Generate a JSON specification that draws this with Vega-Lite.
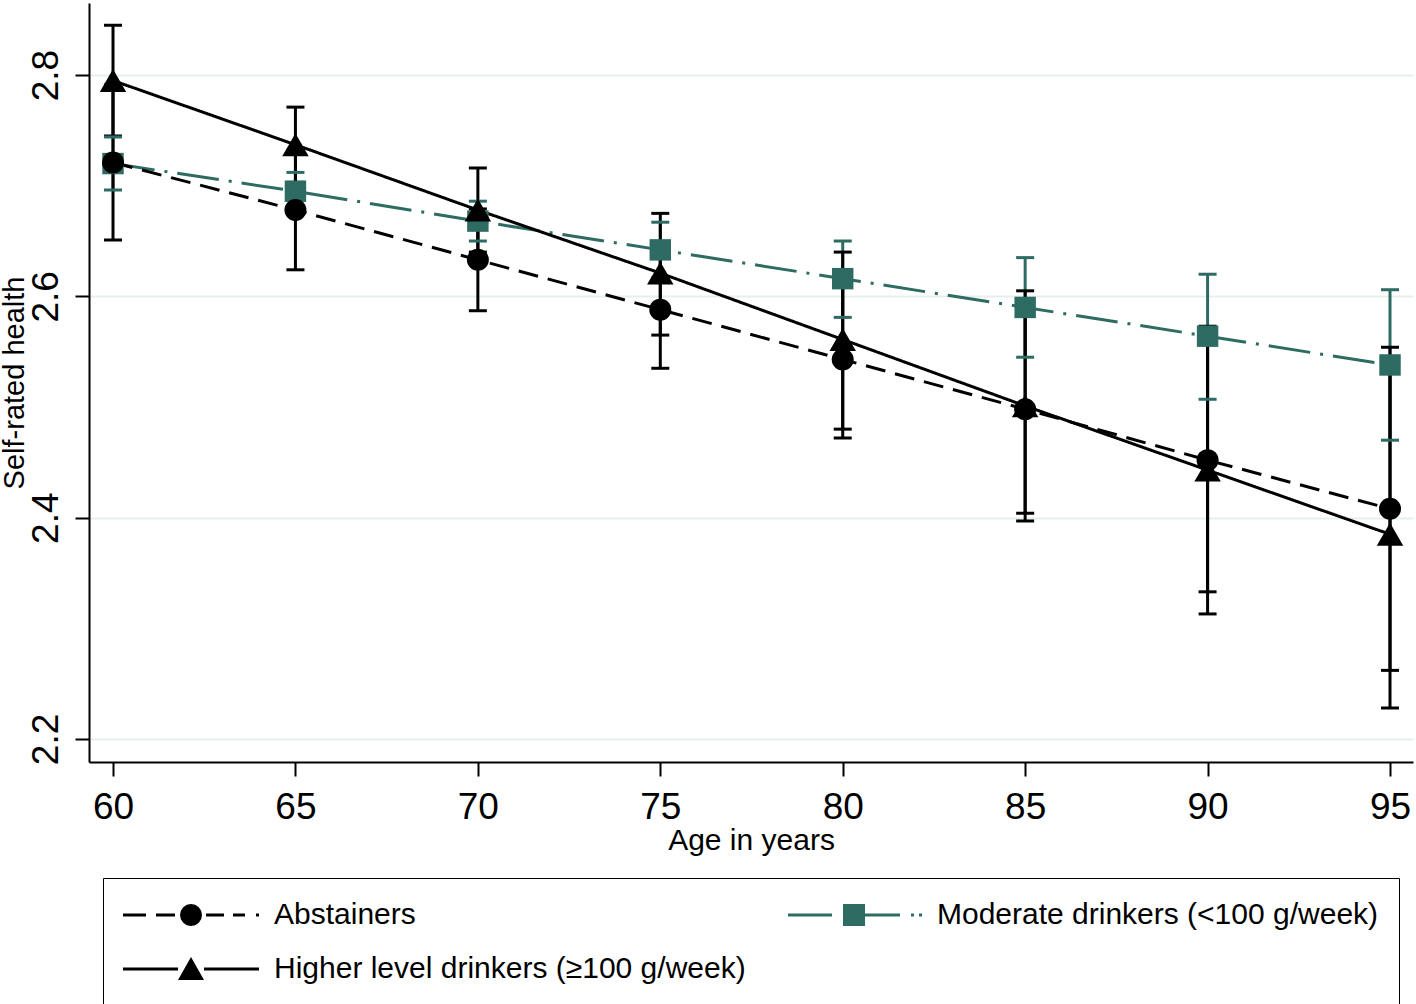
{
  "$schema": "https://vega.github.io/schema/vega-lite/v6.json",
  "autosize": {"type": "none"},
  "padding": {"left": 89, "top": 3, "right": 3, "bottom": 242},
  "width": 1324,
  "height": 759,
  "background": "white",
  "config": {
    "view": {"stroke": null},
    "font": "Liberation Sans"
  },
  "data": {
    "values": [
      {"g": "Moderate drinkers (<100 g/week)", "age": 60, "est": 2.720, "lo": 2.696, "hi": 2.744},
      {"g": "Moderate drinkers (<100 g/week)", "age": 65, "est": 2.695, "lo": 2.678, "hi": 2.712},
      {"g": "Moderate drinkers (<100 g/week)", "age": 70, "est": 2.668, "lo": 2.650, "hi": 2.686},
      {"g": "Moderate drinkers (<100 g/week)", "age": 75, "est": 2.642, "lo": 2.617, "hi": 2.667},
      {"g": "Moderate drinkers (<100 g/week)", "age": 80, "est": 2.616, "lo": 2.581, "hi": 2.650},
      {"g": "Moderate drinkers (<100 g/week)", "age": 85, "est": 2.590, "lo": 2.545, "hi": 2.635},
      {"g": "Moderate drinkers (<100 g/week)", "age": 90, "est": 2.564, "lo": 2.507, "hi": 2.620},
      {"g": "Moderate drinkers (<100 g/week)", "age": 95, "est": 2.538, "lo": 2.470, "hi": 2.606},
      {"g": "Abstainers", "age": 60, "est": 2.721, "lo": 2.651, "hi": 2.791},
      {"g": "Abstainers", "age": 65, "est": 2.678, "lo": 2.624, "hi": 2.732},
      {"g": "Abstainers", "age": 70, "est": 2.633, "lo": 2.587, "hi": 2.679},
      {"g": "Abstainers", "age": 75, "est": 2.588, "lo": 2.535, "hi": 2.641},
      {"g": "Abstainers", "age": 80, "est": 2.543, "lo": 2.472, "hi": 2.614},
      {"g": "Abstainers", "age": 85, "est": 2.498, "lo": 2.404, "hi": 2.592},
      {"g": "Abstainers", "age": 90, "est": 2.452, "lo": 2.333, "hi": 2.571},
      {"g": "Abstainers", "age": 95, "est": 2.408, "lo": 2.262, "hi": 2.554},
      {"g": "Higher level drinkers (≥100 g/week)", "age": 60, "est": 2.795, "lo": 2.745, "hi": 2.845},
      {"g": "Higher level drinkers (≥100 g/week)", "age": 65, "est": 2.737, "lo": 2.703, "hi": 2.771},
      {"g": "Higher level drinkers (≥100 g/week)", "age": 70, "est": 2.678, "lo": 2.640, "hi": 2.716},
      {"g": "Higher level drinkers (≥100 g/week)", "age": 75, "est": 2.621, "lo": 2.565, "hi": 2.675},
      {"g": "Higher level drinkers (≥100 g/week)", "age": 80, "est": 2.561, "lo": 2.480, "hi": 2.640},
      {"g": "Higher level drinkers (≥100 g/week)", "age": 85, "est": 2.501, "lo": 2.397, "hi": 2.605},
      {"g": "Higher level drinkers (≥100 g/week)", "age": 90, "est": 2.443, "lo": 2.313, "hi": 2.573},
      {"g": "Higher level drinkers (≥100 g/week)", "age": 95, "est": 2.385, "lo": 2.228, "hi": 2.542}
    ]
  },
  "encoding": {
    "x": {
      "field": "age", "type": "quantitative",
      "scale": {"domain": [59.342, 95.63], "nice": false, "zero": false},
      "axis": {
        "title": "Age in years",
        "values": [60, 65, 70, 75, 80, 85, 90, 95],
        "grid": false,
        "domainColor": "black", "domainWidth": 2,
        "tickColor": "black", "tickWidth": 2, "tickSize": 14,
        "labelFont": "Liberation Sans", "labelFontSize": 37, "labelColor": "black", "labelPadding": 13,
        "titleFont": "Liberation Sans", "titleFontSize": 30, "titleFontWeight": "normal", "titleColor": "black", "titlePadding": 0
      }
    },
    "y": {
      "field": "est", "type": "quantitative",
      "scale": {"domain": [2.1792, 2.8651], "nice": false, "zero": false},
      "axis": {
        "title": "Self-rated health",
        "values": [2.2, 2.4, 2.6, 2.8],
        "format": ".1f",
        "grid": true, "gridColor": "#E6EFF0", "gridWidth": 2,
        "domainColor": "black", "domainWidth": 2,
        "tickColor": "black", "tickWidth": 2, "tickSize": 14,
        "labelAngle": 270,
        "labelFont": "Liberation Sans", "labelFontSize": 37, "labelColor": "black", "labelPadding": 10,
        "titleFont": "Liberation Sans", "titleFontSize": 29, "titleFontWeight": "normal", "titleColor": "black", "titlePadding": -2
      }
    }
  },
  "layer": [
    {
      "mark": {"type": "rule", "strokeWidth": 3},
      "encoding": {
        "y": {"field": "lo", "type": "quantitative"},
        "y2": {"field": "hi"},
        "stroke": {
          "field": "g", "type": "nominal", "legend": null,
          "scale": {"domain": ["Moderate drinkers (<100 g/week)", "Abstainers", "Higher level drinkers (≥100 g/week)"], "range": ["#2E6B63", "#000000", "#000000"]}
        }
      }
    },
    {
      "mark": {"type": "tick", "orient": "horizontal", "size": 18, "thickness": 3, "opacity": 1},
      "encoding": {
        "y": {"field": "lo", "type": "quantitative"},
        "fill": {
          "field": "g", "type": "nominal", "legend": null,
          "scale": {"domain": ["Moderate drinkers (<100 g/week)", "Abstainers", "Higher level drinkers (≥100 g/week)"], "range": ["#2E6B63", "#000000", "#000000"]}
        }
      }
    },
    {
      "mark": {"type": "tick", "orient": "horizontal", "size": 18, "thickness": 3, "opacity": 1},
      "encoding": {
        "y": {"field": "hi", "type": "quantitative"},
        "fill": {
          "field": "g", "type": "nominal", "legend": null,
          "scale": {"domain": ["Moderate drinkers (<100 g/week)", "Abstainers", "Higher level drinkers (≥100 g/week)"], "range": ["#2E6B63", "#000000", "#000000"]}
        }
      }
    },
    {
      "mark": {"type": "line", "strokeWidth": 3},
      "encoding": {
        "stroke": {
          "field": "g", "type": "nominal", "legend": null,
          "scale": {"domain": ["Moderate drinkers (<100 g/week)", "Abstainers", "Higher level drinkers (≥100 g/week)"], "range": ["#2E6B63", "#000000", "#000000"]}
        },
        "strokeDash": {
          "field": "g", "type": "nominal", "legend": null,
          "scale": {"domain": ["Moderate drinkers (<100 g/week)", "Abstainers", "Higher level drinkers (≥100 g/week)"], "range": [[42, 10, 3, 10], [20, 10], [1, 0]]}
        }
      }
    },
    {
      "transform": [{"filter": "datum.age === 60"}],
      "mark": {"type": "point", "filled": true, "opacity": 0, "size": 1},
      "encoding": {
        "color": {
          "field": "g", "type": "nominal",
          "scale": {"domain": ["Abstainers", "Higher level drinkers (≥100 g/week)", "Moderate drinkers (<100 g/week)"], "range": ["#000000", "#000000", "#2E6B63"]},
          "legend": {
            "title": null, "orient": "none", "legendX": 14, "legendY": 875, "columns": 2,
            "symbolSize": 1156, "symbolStrokeWidth": 0, "symbolOpacity": 1, "symbolOffset": 51,
            "labelFont": "Liberation Sans", "labelFontSize": 30, "labelColor": "black", "labelOffset": 66, "labelLimit": 1000,
            "columnPadding": 40, "rowPadding": 22, "padding": 20,
            "strokeColor": "black", "fillColor": "white"
          }
        },
        "shape": {
          "field": "g", "type": "nominal",
          "scale": {
            "domain": ["Abstainers", "Higher level drinkers (≥100 g/week)", "Moderate drinkers (<100 g/week)"],
            "range": [
              "M-4,-0.088L-2.647,-0.088L-2.647,0.088L-4,0.088Z M-2.059,-0.088L-0.941,-0.088L-0.941,0.088L-2.059,0.088Z M0.647,0L0.5978,0.2476L0.4575,0.4575L0.2476,0.5978L0,0.647L-0.2476,0.5978L-0.4575,0.4575L-0.5978,0.2476L-0.647,0L-0.5978,-0.2476L-0.4575,-0.4575L-0.2476,-0.5978L0,-0.647L0.2476,-0.5978L0.4575,-0.4575L0.5978,-0.2476Z M0.882,-0.088L1.941,-0.088L1.941,0.088L0.882,0.088Z M2.471,-0.088L3.176,-0.088L3.176,0.088L2.471,0.088Z M3.824,-0.088L4,-0.088L4,0.088L3.824,0.088Z",
              "M-4,-0.088L-0.765,-0.088L-0.765,0.088L-4,0.088Z M0.765,-0.088L4,-0.088L4,0.088L0.765,0.088Z M0,-0.706L0.765,0.647L-0.765,0.647Z",
              "M-3.882,-0.088L-1.294,-0.088L-1.294,0.088L-3.882,0.088Z M-0.647,-0.647L0.647,-0.647L0.647,0.647L-0.647,0.647Z M0.647,-0.088L2.706,-0.088L2.706,0.088L0.647,0.088Z M3.353,-0.088L3.529,-0.088L3.529,0.088L3.353,0.088Z M3.824,-0.088L4,-0.088L4,0.088L3.824,0.088Z"
            ]
          },
          "legend": {
            "title": null, "orient": "none", "legendX": 14, "legendY": 875, "columns": 2,
            "symbolSize": 1156, "symbolStrokeWidth": 0, "symbolOpacity": 1, "symbolOffset": 51,
            "labelFont": "Liberation Sans", "labelFontSize": 30, "labelColor": "black", "labelOffset": 66, "labelLimit": 1000,
            "columnPadding": 40, "rowPadding": 22, "padding": 20,
            "strokeColor": "black", "fillColor": "white"
          }
        }
      }
    },
    {
      "transform": [{"filter": "datum.g === 'Moderate drinkers (<100 g/week)'"}],
      "mark": {"type": "point", "shape": "square", "filled": true, "size": 460, "opacity": 1, "color": "#2E6B63"},
      "encoding": {}
    },
    {
      "transform": [{"filter": "datum.g === 'Abstainers'"}],
      "mark": {"type": "point", "shape": "circle", "filled": true, "size": 484, "opacity": 1, "color": "#000000"},
      "encoding": {}
    },
    {
      "transform": [{"filter": "datum.g === 'Higher level drinkers (≥100 g/week)'"}],
      "mark": {"type": "point", "shape": "triangle-up", "filled": true, "size": 700, "opacity": 1, "color": "#000000"},
      "encoding": {}
    }
  ]
}
